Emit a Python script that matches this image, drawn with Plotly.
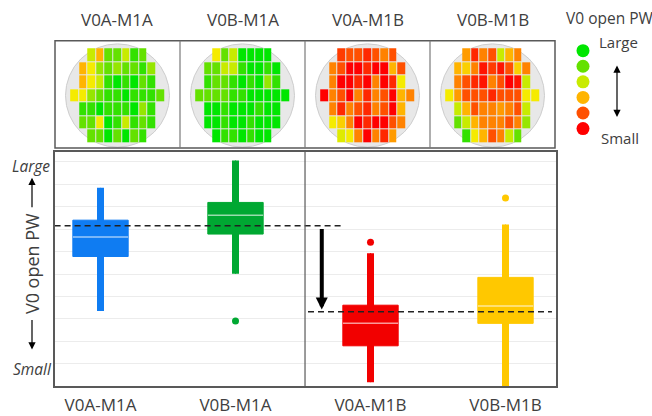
import plotly.graph_objects as go

# ---------------- data ----------------
groups = ["V0A-M1A", "V0B-M1A", "V0A-M1B", "V0B-M1B"]
box_colors = ["#0F7CF2", "#00A832", "#F20000", "#FFC800"]

# box statistics (arbitrary units, larger = wider open PW)
lower_fence = [3.35, 5.01, 0.18, 0.00]
q1 = [5.78, 6.78, 1.80, 2.80]
median = [6.65, 7.62, 2.80, 3.57]
q3 = [7.40, 8.19, 3.61, 4.85]
upper_fence = [8.84, 10.06, 5.93, 7.21]
outlier_group = [1, 2, 3]
outlier_value = [2.91, 6.42, 8.39]

# group means drawn as dashed reference lines
mean_m1a = 7.15
mean_m1b = 3.32

# wafer maps: per-die level (0 = small/red ... 10 = large/green), row by row
row_lengths = [7, 9, 9, 11, 9, 9, 7]
wafer_levels = {
    "V0A-M1A": [
        [6, 4, 8, 8, 6, 9, 8],
        [4, 5, 7, 8, 7, 8, 8, 9, 7],
        [4, 5, 6, 9, 10, 9, 10, 8, 9],
        [5, 5, 7, 8, 9, 9, 10, 9, 9, 9, 8],
        [9, 9, 10, 9, 9, 9, 10, 7, 9],
        [8, 8, 5, 10, 9, 6, 9, 8, 9],
        [8, 8, 10, 8, 10, 8, 9],
    ],
    "V0B-M1A": [
        [5, 8, 6, 10, 10, 10, 10],
        [8, 8, 6, 6, 9, 10, 10, 9, 10],
        [9, 8, 8, 9, 10, 9, 10, 7, 9],
        [8, 8, 8, 8, 9, 9, 10, 10, 10, 10, 10],
        [10, 10, 9, 10, 10, 10, 9, 10, 10],
        [10, 10, 9, 10, 10, 9, 10, 10, 10],
        [10, 9, 9, 10, 9, 10, 10],
    ],
    "V0A-M1B": [
        [1.5, 2, 2, 1, 2, 3, 2],
        [3, 2, 0, 0, 1, 0, 0, 4, 2],
        [3, 0, 0, 1, 0, 3, 0, 1, 5],
        [0, 3, 2, 0, 3, 1, 3, 2, 0, 4, 3],
        [3, 1, 3, 2, 1, 3, 2, 0, 4],
        [5, 4.5, 3, 0, 1, 0, 0, 2, 3],
        [5.5, 5, 3, 0, 3, 1, 3.5],
    ],
    "V0B-M1B": [
        [3.5, 1, 3, 2, 6, 4, 3],
        [4, 4.5, 3, 0.5, 1.5, 0.5, 2, 4.5, 3],
        [3, 2, 1, 0.5, 3, 2, 0, 0.5, 6],
        [5, 3.5, 2, 2, 2, 1, 2, 2, 2, 5, 5],
        [6, 4, 2, 3, 3, 3.5, 3, 2, 6],
        [8, 6, 4, 3, 3, 3, 2, 3, 7],
        [9, 5, 4, 2, 3, 6, 8],
    ],
}
legend_levels = [10, 8, 6, 4, 2, 0]

# ---------------- styling helpers ----------------
W, H = 652, 416
TXT = "#404040"
FONT = "Open Sans"
FRAME = "#595959"

def fx(p):
    return p / W

def fy(p):
    return 1 - p / H

def label(x, y, text, size, **kw):
    fig.add_annotation(x=fx(x), y=fy(y), xref="paper", yref="paper", text=text,
                       xanchor="center", yanchor="middle", showarrow=False,
                       font=dict(size=size, color=TXT, family=FONT), **kw)

level_scale = [
    [0.0, "rgb(255,0,0)"],
    [0.2, "rgb(255,80,0)"],
    [0.3, "rgb(255,130,0)"],
    [0.4, "rgb(255,180,0)"],
    [0.5, "rgb(245,235,0)"],
    [0.6, "rgb(200,235,0)"],
    [0.7, "rgb(150,230,0)"],
    [0.8, "rgb(100,225,0)"],
    [0.9, "rgb(50,225,0)"],
    [1.0, "rgb(0,230,0)"],
]

fig = go.Figure()

# ---------------- box plot panel ----------------
box_w = 0.41
for i, g in enumerate(groups):
    c = box_colors[i]
    fig.add_trace(go.Box(
        x=[i], q1=[q1[i]], median=[median[i]], q3=[q3[i]],
        lowerfence=[lower_fence[i]], upperfence=[upper_fence[i]],
        width=box_w, fillcolor=c, line=dict(color=c, width=1),
        whiskerwidth=0, boxpoints=False, showlegend=False, name=g,
        xaxis="x", yaxis="y",
    ))
for i, g in enumerate(groups):
    c = box_colors[i]
    fig.add_trace(go.Scatter(
        x=[i, i], y=[lower_fence[i], upper_fence[i]], mode="lines",
        line=dict(color=c, width=7), showlegend=False, hoverinfo="skip",
        xaxis="x", yaxis="y",
    ))
    fig.add_trace(go.Scatter(
        x=[i - box_w / 2, i + box_w / 2], y=[median[i], median[i]], mode="lines",
        line=dict(color="rgba(255,255,255,0.6)", width=1.5), showlegend=False,
        hoverinfo="skip", xaxis="x", yaxis="y",
    ))
fig.add_trace(go.Scatter(
    x=outlier_group, y=outlier_value, mode="markers",
    marker=dict(size=7, color=[box_colors[k] for k in outlier_group]),
    showlegend=False, xaxis="x", yaxis="y",
))
fig.add_trace(go.Scatter(
    x=[-0.34, 1.796], y=[mean_m1a, mean_m1a], mode="lines",
    line=dict(color="#222222", width=1.5, dash="6px,4px"),
    showlegend=False, hoverinfo="skip", xaxis="x", yaxis="y",
))
fig.add_trace(go.Scatter(
    x=[1.537, 3.344], y=[mean_m1b, mean_m1b], mode="lines",
    line=dict(color="#222222", width=1.5, dash="6px,4px"),
    showlegend=False, hoverinfo="skip", xaxis="x", yaxis="y",
))

# shift arrow between the two means
fig.add_annotation(
    x=1.639, y=mean_m1b + 0.1, ax=1.639, ay=mean_m1a - 0.08,
    xref="x", yref="y", axref="x", ayref="y", text="",
    showarrow=True, arrowhead=2, arrowsize=0.6, arrowwidth=4, arrowcolor="black",
)
# M1A / M1B separator
fig.add_shape(type="line", xref="x", yref="y domain", x0=1.515, x1=1.515, y0=0, y1=1,
              line=dict(color=FRAME, width=1.2))

# ---------------- wafer maps ----------------
cell_w, cell_h = 8.6, 13.6
wafer_r = 52
panel_top, panel_bot = 41, 149
row_cy = 96.2
for w, g in enumerate(groups):
    ax_id = w + 2
    left = 55 + 125 * w
    right = left + 125
    cx = (left + right) / 2
    z = []
    for r, vals in enumerate(wafer_levels[g]):
        start = (11 - row_lengths[r]) // 2
        row = [None] * 11
        for k, v in enumerate(vals):
            row[start + k] = v
        z.append(row)
    fig.add_trace(go.Heatmap(
        z=z, x=list(range(11)), y=list(range(7)), zmin=0, zmax=10,
        colorscale=level_scale, showscale=False, xgap=1, ygap=1,
        xaxis=f"x{ax_id}", yaxis=f"y{ax_id}", hoverinfo="skip",
    ))
    rx = wafer_r / cell_w
    ry = wafer_r / cell_h
    fig.add_shape(type="circle", xref=f"x{ax_id}", yref=f"y{ax_id}",
                  x0=5 - rx, x1=5 + rx, y0=3 - ry, y1=3 + ry,
                  fillcolor="#e8e8e8", line=dict(color="#cdcdcd", width=1), layer="below")
    fig.layout[f"xaxis{ax_id}"] = dict(
        domain=[fx(left), fx(right)],
        range=[5 + (left - cx) / cell_w, 5 + (right - cx) / cell_w],
        visible=False, anchor=f"y{ax_id}", fixedrange=True,
    )
    fig.layout[f"yaxis{ax_id}"] = dict(
        domain=[fy(panel_bot), fy(panel_top)],
        range=[3 + (panel_bot - row_cy) / cell_h, 3 + (panel_top - row_cy) / cell_h],
        visible=False, anchor=f"x{ax_id}", fixedrange=True,
    )
    label(cx, 20, g, 17)

# wafer panel frame
fig.add_shape(type="rect", xref="paper", yref="paper",
              x0=fx(55), x1=fx(555), y0=fy(panel_bot), y1=fy(panel_top),
              line=dict(color=FRAME, width=1.5), layer="above")
for xd in (180, 305, 430):
    fig.add_shape(type="line", xref="paper", yref="paper",
                  x0=fx(xd), x1=fx(xd), y0=fy(panel_bot), y1=fy(panel_top),
                  line=dict(color="#7a7a7a", width=1.2), layer="above")

# ---------------- colour legend ----------------
fig.add_trace(go.Scatter(
    x=[583] * len(legend_levels), y=[51 + 15.7 * k for k in range(len(legend_levels))],
    mode="markers",
    marker=dict(size=13, color=legend_levels, colorscale=level_scale, cmin=0, cmax=10,
                line=dict(width=0)),
    showlegend=False, hoverinfo="skip", xaxis="x6", yaxis="y6",
))
fig.layout["xaxis6"] = dict(domain=[fx(565), fx(601)], range=[565, 601], visible=False,
                            anchor="y6", fixedrange=True)
fig.layout["yaxis6"] = dict(domain=[fy(140), fy(40)], range=[140, 40], visible=False,
                            anchor="x6", fixedrange=True)
label(609, 18, "V0 open PW", 15.5)
label(618, 42, "Large", 15)
label(620, 139, "Small", 15)
fig.add_annotation(x=fx(617), y=fy(66), ax=0, ay=53, xref="paper", yref="paper",
                   text="", showarrow=True,
                   arrowhead=2, startarrowhead=2, arrowside="end+start",
                   arrowsize=1.2, startarrowsize=1.2, arrowwidth=1.2, arrowcolor="black")

# ---------------- y-axis wording ----------------
label(31, 167, "<i>Large</i>", 15.5)
label(32, 372, "<i>Small</i>", 15.5)
label(32, 266, "V0 open PW", 18, textangle=-90)
fig.add_annotation(x=fx(32), y=fy(179), ax=0, ay=31, xref="paper", yref="paper", text="",
                   showarrow=True, arrowhead=2, arrowsize=1.2, arrowwidth=1.2, arrowcolor="black")
fig.add_annotation(x=fx(32), y=fy(352), ax=0, ay=-31, xref="paper", yref="paper", text="",
                   showarrow=True, arrowhead=2, arrowsize=1.2, arrowwidth=1.2, arrowcolor="black")

# ---------------- layout ----------------
fig.update_layout(
    width=W, height=H, margin=dict(l=0, r=0, t=0, b=0),
    paper_bgcolor="white", plot_bgcolor="rgba(0,0,0,0)",
    font=dict(family=FONT, color=TXT),
    xaxis=dict(
        domain=[fx(55), fx(556)], range=[(55 - 100.5) / 135, (556 - 100.5) / 135],
        tickmode="array", tickvals=list(range(len(groups))), ticktext=groups,
        tickfont=dict(size=17, color=TXT, family=FONT), ticks="", ticklabelstandoff=3,
        showgrid=False, zeroline=False, showline=True, mirror=True,
        linecolor=FRAME, linewidth=1.5, anchor="y", fixedrange=True,
    ),
    yaxis=dict(
        domain=[fy(389), fy(153)], range=[0, 236 / 22.6],
        tick0=0, dtick=1, showticklabels=False, ticks="",
        showgrid=True, gridcolor="#ececec", gridwidth=1, zeroline=False,
        showline=True, mirror=True, linecolor=FRAME, linewidth=1.5,
        anchor="x", fixedrange=True,
    ),
)

fig.write_html("out.html")
